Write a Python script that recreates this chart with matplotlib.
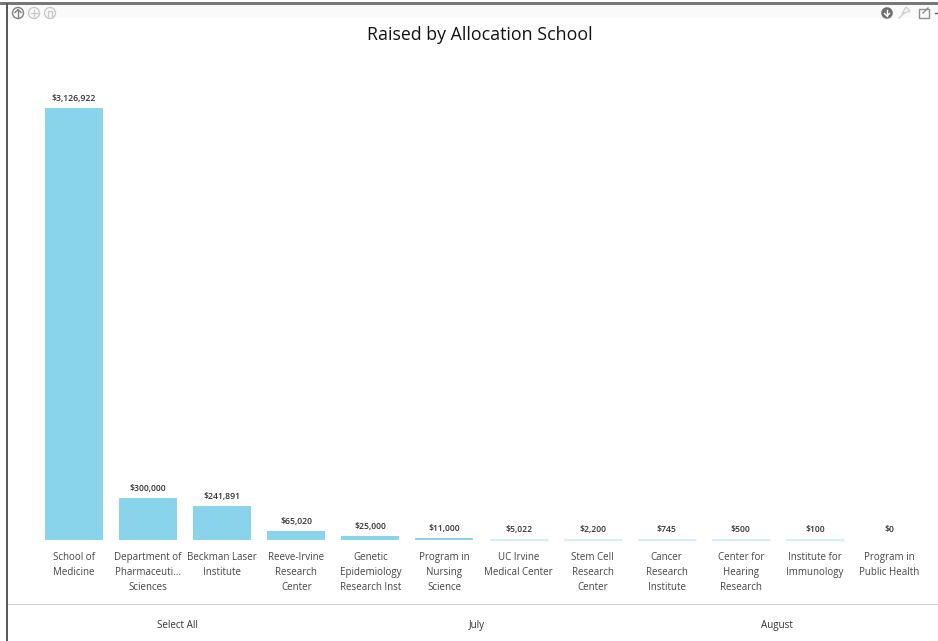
import matplotlib
matplotlib.use("Agg")
import matplotlib.pyplot as plt
from matplotlib.patches import Circle, Rectangle, Polygon

categories = ["School of\nMedicine", "Department of\nPharmaceuti...\nSciences", "Beckman Laser\nInstitute",
              "Reeve-Irvine\nResearch\nCenter", "Genetic\nEpidemiology\nResearch Inst", "Program in\nNursing\nScience",
              "UC Irvine\nMedical Center", "Stem Cell\nResearch\nCenter", "Cancer\nResearch\nInstitute",
              "Center for\nHearing\nResearch", "Institute for\nImmunology", "Program in\nPublic Health"]
values = [3126922, 300000, 241891, 65020, 25000, 11000, 5022, 2200, 745, 500, 100, 0]
value_labels = ["$3,126,922", "$300,000", "$241,891", "$65,020", "$25,000", "$11,000", "$5,022", "$2,200",
                "$745", "$500", "$100", "$0"]
slicers = ["Select All", "July", "August"]
title = "Raised by Allocation School"

W, H = 938, 641
FONT = ["Open Sans", "DejaVu Sans"]
BAR = "#8AD4EB"
fig = plt.figure(figsize=(W / 100, H / 100), dpi=100, facecolor="white")

# overlay in pixel coordinates for the report chrome
ov = fig.add_axes([0, 0, 1, 1], zorder=0)
ov.set_xlim(0, W); ov.set_ylim(H, 0); ov.axis("off")
ov.add_patch(Rectangle((8, 5), W - 8, 13, color="#FAFAFA", lw=0))
ov.add_patch(Rectangle((0, 2), W, 3, color="#787878", lw=0))
ov.add_patch(Rectangle((6, 3), 2, H - 3, color="#5A5A5A", lw=0))
ov.add_patch(Rectangle((8, 604), W - 8, 1, color="#CFCFCF", lw=0))
for cx, col in [(18, "#808080"), (34, "#C8C8C8"), (50, "#C8C8C8")]:
    ov.add_patch(Circle((cx, 13), 5.5, fill=False, ec=col, lw=1))
ov.plot([18, 18], [10, 17], color="#808080", lw=1)
ov.plot([15, 18, 21], [12.5, 9.5, 12.5], color="#808080", lw=1)
ov.plot([31, 37], [13, 13], color="#C8C8C8", lw=1)
ov.plot([34, 34], [10, 16], color="#C8C8C8", lw=1)
ov.plot([48, 48, 52, 52], [16, 10.5, 10.5, 16], color="#C8C8C8", lw=1)
ov.add_patch(Circle((887, 13), 5.8, color="#6E6E6E", lw=0))
ov.plot([887, 887], [9.5, 15.5], color="white", lw=1)
ov.plot([884.5, 887, 889.5], [13.5, 16, 13.5], color="white", lw=1)
ov.add_patch(Polygon([(902, 14), (906, 7), (910, 11)], fill=False, ec="#D0D0D0", lw=1))
ov.plot([899, 903.5], [18, 14], color="#D0D0D0", lw=1)
ov.add_patch(Rectangle((918.5, 8.5), 10, 9, fill=False, ec="#909090", lw=1))
ov.plot([923, 928], [13, 8], color="#909090", lw=1)
ov.plot([935, 938], [13, 13], color="#606060", lw=1)

ov.text(479.5, 34.5, title, ha="center", va="center", fontsize=12.8, color="#111111", family=FONT)
for x, s in zip([177, 477, 777], slicers):
    ov.text(x, 625.5, s, ha="center", va="center", fontsize=7.1, color="#333333", family=FONT)

# chart
top_px, base_px, left_px, right_px = 60, 539.5, 37, 926
ax = fig.add_axes([left_px / W, 1 - base_px / H, (right_px - left_px) / W, (base_px - top_px) / H], zorder=1)
ax.patch.set_alpha(0)
ax.set_xlim(-0.5, 11.5)
ax.set_ylim(0, values[0] * (base_px - top_px) / (base_px - 108))
ax.axis("off")
xs = range(len(values))
# Very small values render as a faint minimum-height sliver, as in the reference
colors = [BAR if v >= 10000 else "#D3EEF7" for v in values]
ax.bar(xs, values, width=58 / 74.1, color=colors, lw=0)
for x, v in zip(xs, values):
    if 0 < v < 10000:
        ax.plot([x - 29 / 74.1, x + 29 / 74.1], [0, 0], color="#D3EEF7", lw=1, clip_on=False,
                solid_capstyle="butt", zorder=3)
for x, v, s in zip(xs, values, value_labels):
    ax.annotate(s, (x, v), xytext=(0, 5), textcoords="offset pixels", ha="center", va="bottom",
                fontsize=6.2, color="#333333", family=FONT, fontweight="semibold")
for x, s in zip(xs, categories):
    ax.annotate(s, (x, 0), xytext=(0, -12.5), textcoords="offset pixels", ha="center", va="top",
                fontsize=7.05, color="#444444", family=FONT, linespacing=1.52, annotation_clip=False)

fig.savefig("out.png", dpi=100)
